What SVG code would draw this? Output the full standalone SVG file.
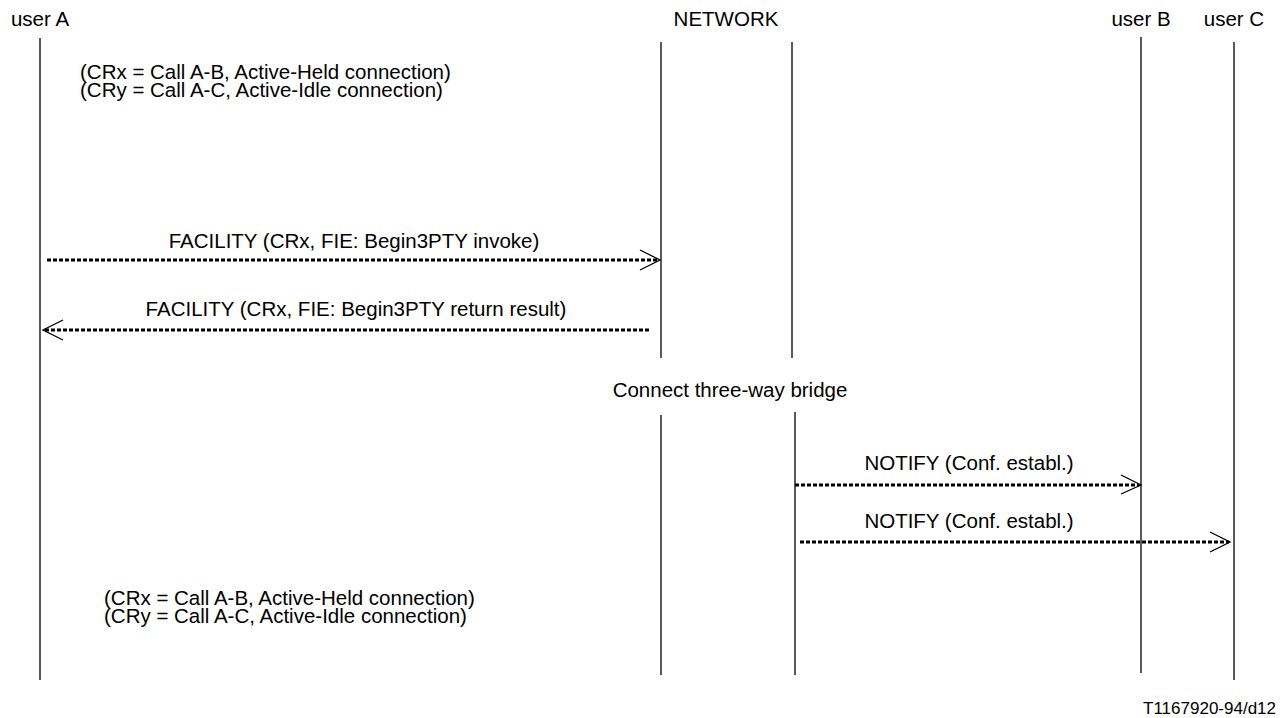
<svg xmlns="http://www.w3.org/2000/svg" width="1284" height="718" viewBox="0 0 1284 718">
<style>
text{font-family:"Liberation Sans",Arial,sans-serif;font-size:20.5px;fill:#000}
.small{font-size:17px}
.life{stroke:#000;stroke-width:1.3;fill:none}
.msg{stroke:#000;stroke-width:3;stroke-dasharray:4 2;fill:none}
.head{stroke:#000;stroke-width:1.3;fill:none}
</style>
<rect width="1284" height="718" fill="#fff"/>
<g id="userA">
<text x="40" y="26" text-anchor="middle">user A</text>
<line class="life" x1="40" y1="38" x2="40" y2="680"/>
</g>
<g id="network">
<text x="726" y="26" text-anchor="middle">NETWORK</text>
<line class="life" x1="661" y1="42" x2="661" y2="358"/>
<line class="life" x1="792" y1="42" x2="792" y2="358"/>
<line class="life" x1="661" y1="415" x2="661" y2="675"/>
<line class="life" x1="795" y1="412" x2="795" y2="675"/>
<text x="730" y="397" text-anchor="middle">Connect three-way bridge</text>
</g>
<g id="userB">
<text x="1141" y="26" text-anchor="middle">user B</text>
<line class="life" x1="1141" y1="37" x2="1141" y2="673"/>
</g>
<g id="userC">
<text x="1234" y="26" text-anchor="middle">user C</text>
<line class="life" x1="1234" y1="42" x2="1234" y2="680"/>
</g>
<g id="notes">
<text x="80" y="79">(CRx = Call A-B, Active-Held connection)</text>
<text x="80" y="97">(CRy = Call A-C, Active-Idle connection)</text>
<text x="104" y="605">(CRx = Call A-B, Active-Held connection)</text>
<text x="104" y="623">(CRy = Call A-C, Active-Idle connection)</text>
<text class="small" x="1276" y="714" text-anchor="end">T1167920-94/d12</text>
</g>
<g id="connectors">
<text x="354" y="248" text-anchor="middle">FACILITY (CRx, FIE: Begin3PTY invoke)</text>
<line class="msg" x1="47" y1="260" x2="659" y2="260"/>
<polyline class="head" points="640,250 660,260 640,270"/>
<text x="356" y="316" text-anchor="middle">FACILITY (CRx, FIE: Begin3PTY return result)</text>
<line class="msg" x1="45" y1="330" x2="651" y2="330"/>
<polyline class="head" points="63,320 43,330 63,340"/>
<text x="969" y="470" text-anchor="middle">NOTIFY (Conf. establ.)</text>
<line class="msg" x1="795" y1="485" x2="1139" y2="485"/>
<polyline class="head" points="1121,475 1141,485 1121,494"/>
<text x="969" y="528" text-anchor="middle">NOTIFY (Conf. establ.)</text>
<line class="msg" x1="800" y1="542" x2="1229" y2="542"/>
<polyline class="head" points="1210,532 1230,542 1210,552"/>
</g>
</svg>
